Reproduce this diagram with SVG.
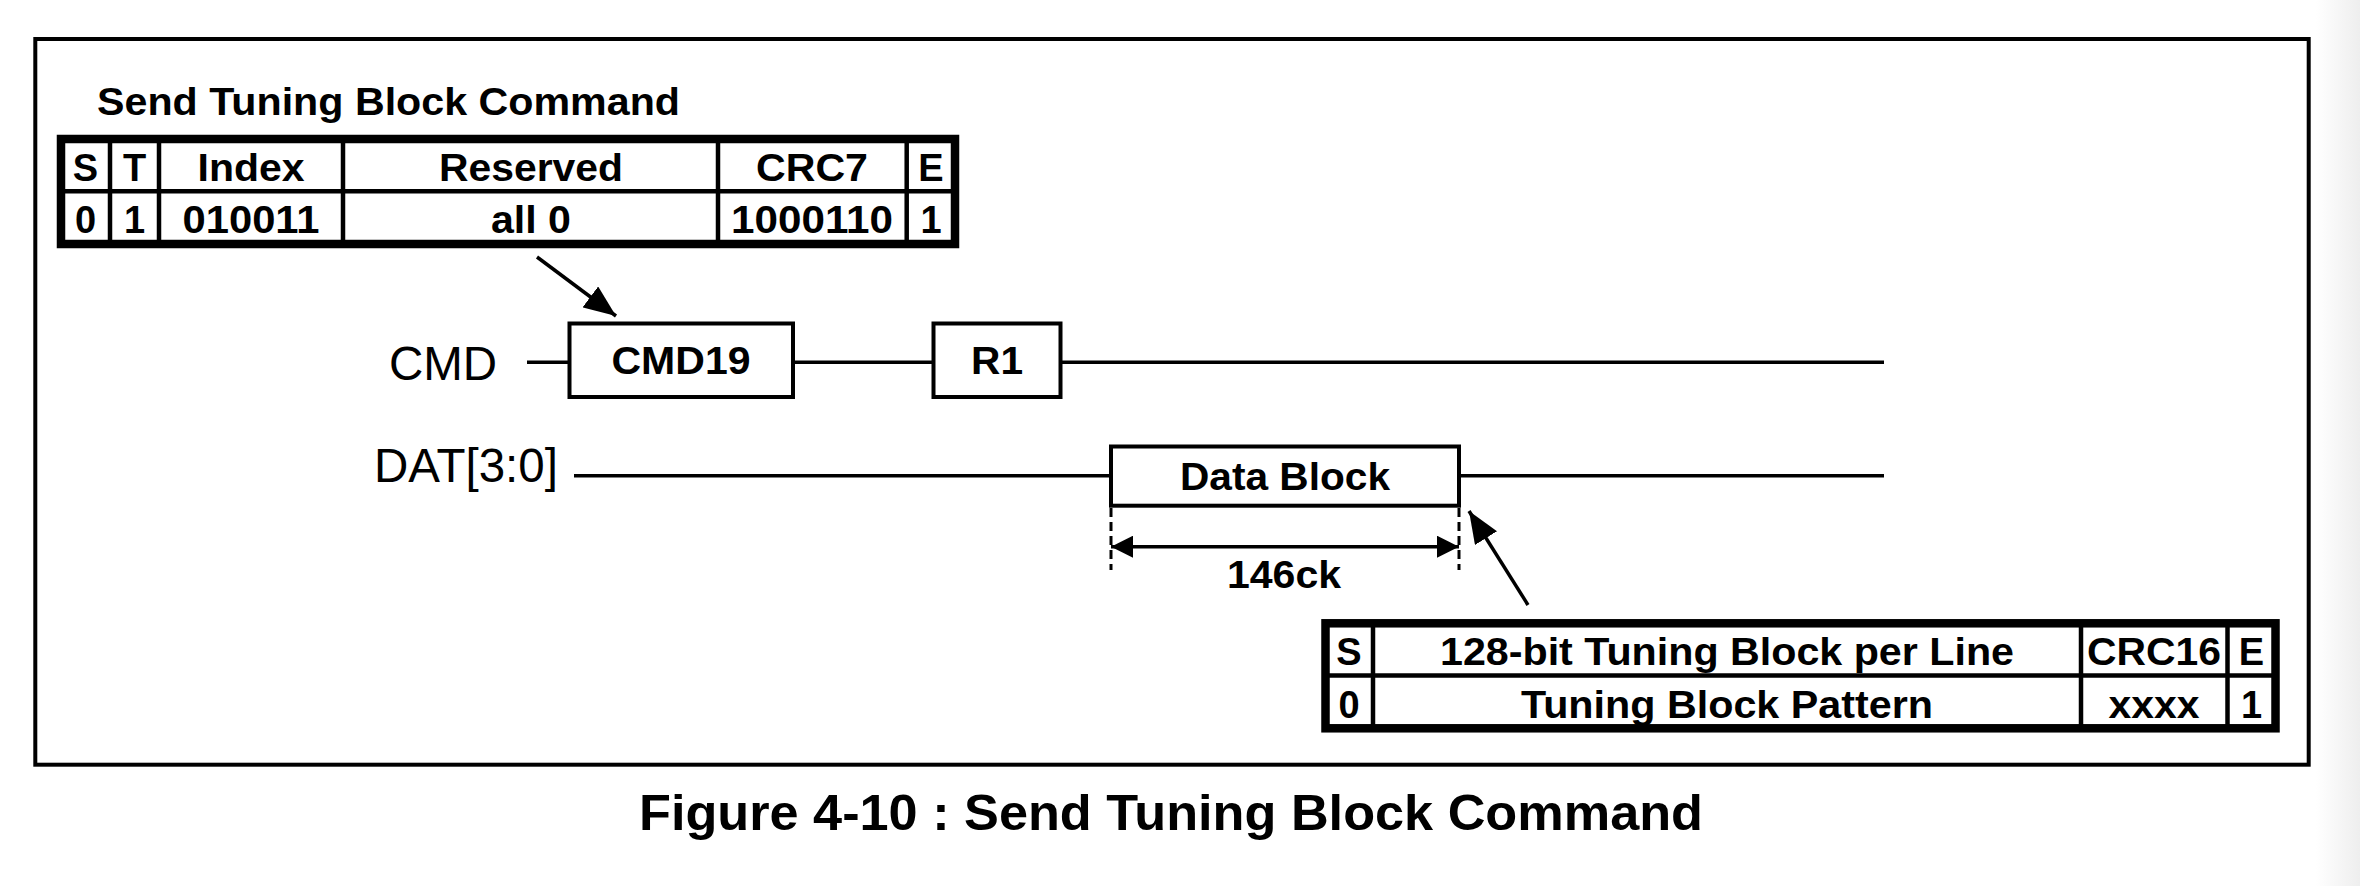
<svg xmlns="http://www.w3.org/2000/svg" width="2360" height="886" viewBox="0 0 2360 886">
<style>
.b{font-family:"Liberation Sans",Arial,sans-serif;font-weight:bold;font-size:38px;fill:#000;text-anchor:middle}
.r{font-family:"Liberation Sans",Arial,sans-serif;font-size:47.5px;fill:#000}
.thick{fill:none;stroke:#000;stroke-width:8.5}
.thin{stroke:#000;stroke-width:4.5;fill:none}
.box{fill:#fff;stroke:#000;stroke-width:4}
.wire{stroke:#000;stroke-width:3.5;fill:none}
.dash{stroke:#000;stroke-width:3;stroke-dasharray:9 5;fill:none}
</style>
<defs>
<linearGradient id="shade" x1="0" y1="0" x2="1" y2="0">
<stop offset="0" stop-color="#ffffff"/>
<stop offset="1" stop-color="#eeeeee"/>
</linearGradient>
<marker id="ah" markerUnits="userSpaceOnUse" markerWidth="34" markerHeight="26" refX="32" refY="13" orient="auto">
<path d="M0,0 L32,13 L0,26 Z" fill="#000"/>
</marker>
<marker id="ahs" markerUnits="userSpaceOnUse" markerWidth="24" markerHeight="22" refX="22" refY="11" orient="auto-start-reverse">
<path d="M0,0 L22,11 L0,22 Z" fill="#000"/>
</marker>
</defs>
<rect x="0" y="0" width="2360" height="886" fill="#fff"/>
<rect x="2316" y="0" width="44" height="886" fill="url(#shade)"/>
<rect id="frame" x="35.3" y="39" width="2273.4" height="725.7" fill="none" stroke="#000" stroke-width="4"/>

<g id="cmd-format">
<text class="b" x="97" y="115" style="text-anchor:start" textLength="583" lengthAdjust="spacingAndGlyphs">Send Tuning Block Command</text>
<rect class="thick" x="61" y="139" width="894" height="105" fill="#fff"/>
<line class="thin" x1="61" y1="191.3" x2="955" y2="191.3"/>
<line class="thin" x1="110" y1="139" x2="110" y2="244"/>
<line class="thin" x1="159" y1="139" x2="159" y2="244"/>
<line class="thin" x1="343" y1="139" x2="343" y2="244"/>
<line class="thin" x1="718" y1="139" x2="718" y2="244"/>
<line class="thin" x1="906.7" y1="139" x2="906.7" y2="244"/>
<text class="b" x="85.5" y="181">S</text>
<text class="b" x="134.5" y="181">T</text>
<text class="b" x="251" y="181" textLength="107" lengthAdjust="spacingAndGlyphs">Index</text>
<text class="b" x="531" y="181" textLength="184" lengthAdjust="spacingAndGlyphs">Reserved</text>
<text class="b" x="812" y="181" textLength="112" lengthAdjust="spacingAndGlyphs">CRC7</text>
<text class="b" x="931" y="181">E</text>
<text class="b" x="85.5" y="233">0</text>
<text class="b" x="134.5" y="233">1</text>
<text class="b" x="251" y="233" textLength="137" lengthAdjust="spacingAndGlyphs">010011</text>
<text class="b" x="531" y="233" textLength="80" lengthAdjust="spacingAndGlyphs">all 0</text>
<text class="b" x="812" y="233" textLength="162" lengthAdjust="spacingAndGlyphs">1000110</text>
<text class="b" x="931" y="233">1</text>
</g>

<g id="connectors">
<line class="wire" x1="527" y1="362.3" x2="1884" y2="362.3"/>
<line class="wire" x1="574" y1="475.7" x2="1884" y2="475.7"/>
<line class="wire" x1="537" y1="257" x2="616" y2="316" marker-end="url(#ah)"/>
<line class="wire" x1="1528" y1="605" x2="1469" y2="511" marker-end="url(#ah)"/>
<line class="dash" x1="1111" y1="508" x2="1111" y2="570"/>
<line class="dash" x1="1459" y1="508" x2="1459" y2="570"/>
<line class="wire" x1="1111" y1="546.7" x2="1459" y2="546.7" marker-start="url(#ahs)" marker-end="url(#ahs)"/>
</g>

<g id="labels">
<text class="r" x="389" y="380">CMD</text>
<text class="r" x="374" y="482">DAT[3:0]</text>
</g>

<g id="cmd19">
<rect class="box" x="569.5" y="323.5" width="223.5" height="73.5"/>
<text class="b" x="681" y="373.5" textLength="139" lengthAdjust="spacingAndGlyphs">CMD19</text>
</g>
<g id="r1">
<rect class="box" x="933.5" y="323.5" width="127" height="73.5"/>
<text class="b" x="997" y="373.5" textLength="52" lengthAdjust="spacingAndGlyphs">R1</text>
</g>
<g id="data-block">
<rect class="box" x="1111" y="446.5" width="348" height="59.2"/>
<text class="b" x="1285" y="489.5" textLength="210" lengthAdjust="spacingAndGlyphs">Data Block</text>
</g>
<g id="len-label">
<text class="b" x="1284" y="588" textLength="114" lengthAdjust="spacingAndGlyphs">146ck</text>
</g>

<g id="tuning-format">
<rect class="thick" x="1325.5" y="623.3" width="950" height="105" fill="#fff"/>
<line class="thin" x1="1325.5" y1="675.5" x2="2275.5" y2="675.5"/>
<line class="thin" x1="1373" y1="623.3" x2="1373" y2="728.3"/>
<line class="thin" x1="2081" y1="623.3" x2="2081" y2="728.3"/>
<line class="thin" x1="2227.5" y1="623.3" x2="2227.5" y2="728.3"/>
<text class="b" x="1349" y="665">S</text>
<text class="b" x="1727" y="665" textLength="574" lengthAdjust="spacingAndGlyphs">128-bit Tuning Block per Line</text>
<text class="b" x="2154" y="665" textLength="134" lengthAdjust="spacingAndGlyphs">CRC16</text>
<text class="b" x="2251.5" y="665">E</text>
<text class="b" x="1349" y="718">0</text>
<text class="b" x="1727" y="718" textLength="412" lengthAdjust="spacingAndGlyphs">Tuning Block Pattern</text>
<text class="b" x="2154" y="718" textLength="91" lengthAdjust="spacingAndGlyphs">xxxx</text>
<text class="b" x="2251.5" y="718">1</text>
</g>

<g id="caption">
<text class="b" x="639" y="830" style="text-anchor:start;font-size:50px" textLength="1064" lengthAdjust="spacingAndGlyphs">Figure 4-10 : Send Tuning Block Command</text>
</g>
</svg>
